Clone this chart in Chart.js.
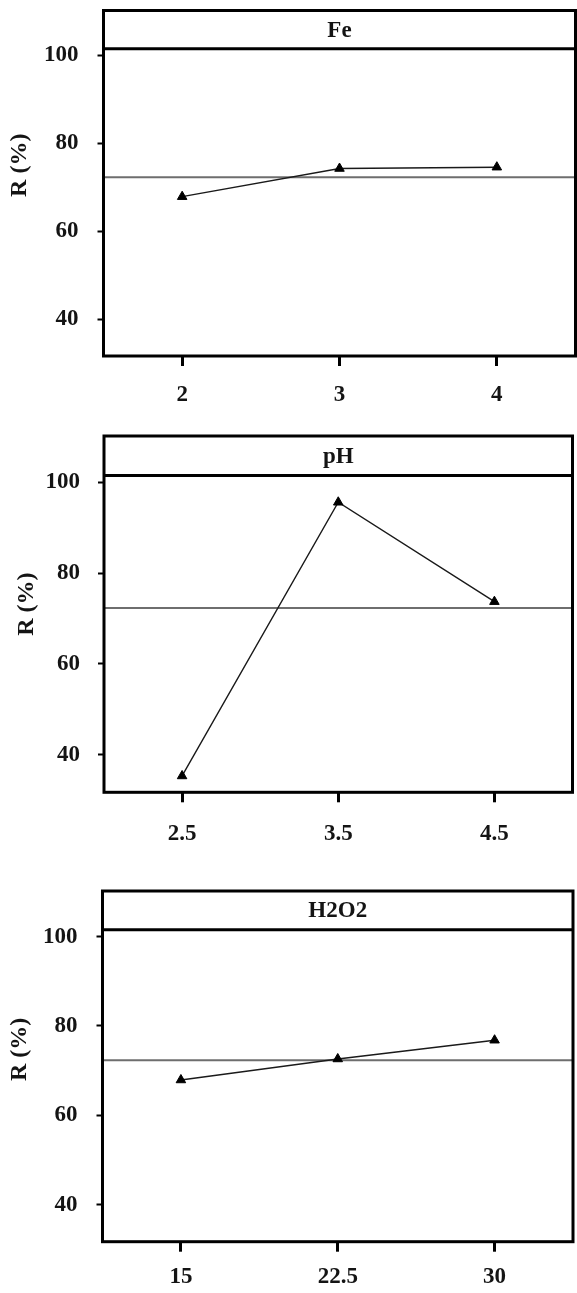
<!DOCTYPE html>
<html>
<head>
<meta charset="utf-8">
<script src="https://cdn.jsdelivr.net/npm/chart.js@4.4.1/dist/chart.umd.min.js"></script>
<style>
html,body{margin:0;padding:0;background:#fff;}
body{width:577px;height:1293px;position:relative;overflow:hidden;}
canvas{position:absolute;left:0;}
</style>
</head>
<body>
<canvas id="cFe"></canvas>
<canvas id="cPH"></canvas>
<canvas id="cH2O2"></canvas>
<script>
// Factor levels and mean response R (%) at each level
const feLevels = ['2', '3', '4'];
const feR = [67.9, 74.3, 74.6];

const phLevels = ['2.5', '3.5', '4.5'];
const phR = [35.3, 95.6, 73.7];

const h2o2Levels = ['15', '22.5', '30'];
const h2o2R = [67.9, 72.6, 76.8];

// Grand mean reference line and shared y axis
const grandMean = 72.3;
const yTicks = [40, 60, 80, 100];
const yTitle = 'R (%)';

const textColor = '#141414';
const fontFamily = '"Liberation Serif", "Times New Roman", serif';

// Draws the panel frame, the title strip, the grand-mean line and the y title
const panelFrame = {
  id: 'panelFrame',
  beforeDatasetsDraw(chart, args, opts) {
    const { ctx, chartArea: a, scales: { y } } = chart;
    const ym = y.getPixelForValue(opts.mean);
    ctx.save();
    ctx.strokeStyle = '#6e6e6e';
    ctx.lineWidth = 2;
    ctx.beginPath();
    ctx.moveTo(a.left, ym);
    ctx.lineTo(a.right, ym);
    ctx.stroke();
    ctx.restore();
  },
  afterDraw(chart, args, opts) {
    const { ctx, chartArea: a, scales: { y } } = chart;
    const yb = y.getPixelForValue(opts.band);
    ctx.save();
    ctx.strokeStyle = '#000';
    ctx.lineWidth = 3;
    ctx.strokeRect(a.left, a.top, a.right - a.left, a.bottom - a.top);
    ctx.beginPath();
    ctx.moveTo(a.left, yb);
    ctx.lineTo(a.right, yb);
    ctx.stroke();

    ctx.fillStyle = textColor;
    ctx.textAlign = 'center';
    ctx.textBaseline = 'middle';
    ctx.font = 'bold 23px ' + fontFamily;
    ctx.fillText(opts.title, (a.left + a.right) / 2, (a.top + yb) / 2 + 1);

    ctx.translate(opts.yTitleX, (a.top + a.bottom) / 2 + opts.yTitleShift);
    ctx.rotate(-Math.PI / 2);
    ctx.font = 'bold 24px ' + fontFamily;
    ctx.fillText(yTitle, 0, 0);
    ctx.restore();
  }
};

const panels = [
  { id: 'cFe', title: 'Fe', levels: feLevels, values: feR,
    top: 0, height: 420, padTop: 10.5, padRight: 1.5, yWidth: 103.5, xHeight: 64,
    xPad: 15, yPad: 19, yTitleX: 20, yTitleShift: -18 },
  { id: 'cPH', title: 'pH', levels: phLevels, values: phR,
    top: 420, height: 440, padTop: 16, padRight: 4.5, yWidth: 104, xHeight: 67.7,
    xPad: 18, yPad: 18, yTitleX: 27, yTitleShift: -10 },
  { id: 'cH2O2', title: 'H2O2', levels: h2o2Levels, values: h2o2R,
    top: 860, height: 433, padTop: 31, padRight: 4, yWidth: 102.5, xHeight: 51.3,
    xPad: 12, yPad: 19, yTitleX: 20, yTitleShift: -17 }
];

const tickFont = { family: fontFamily, size: 23, weight: 'bold' };

panels.forEach(p => {
  const canvas = document.getElementById(p.id);
  canvas.width = 577;
  canvas.height = p.height;
  canvas.style.width = '577px';
  canvas.style.height = p.height + 'px';
  canvas.style.top = p.top + 'px';

  new Chart(canvas, {
    type: 'line',
    data: {
      labels: p.levels,
      datasets: [{
        data: p.values,
        borderColor: '#1a1a1a',
        borderWidth: 1.4,
        tension: 0,
        pointStyle: 'triangle',
        pointRadius: 5.5,
        pointBackgroundColor: '#000',
        pointBorderColor: '#000',
        pointBorderWidth: 1
      }]
    },
    options: {
      responsive: false,
      animation: false,
      events: [],
      layout: {
        autoPadding: false,
        padding: { top: p.padTop, right: p.padRight, left: 0, bottom: 0 }
      },
      plugins: {
        legend: { display: false },
        tooltip: { enabled: false },
        panelFrame: {
          title: p.title, mean: grandMean, band: 101.5,
          yTitleX: p.yTitleX, yTitleShift: p.yTitleShift
        }
      },
      scales: {
        x: {
          type: 'category',
          offset: true,
          grid: {
            display: true, drawOnChartArea: false, drawTicks: true, offset: false,
            tickLength: 10, tickWidth: 3, tickColor: '#000'
          },
          border: { display: false },
          ticks: { color: textColor, font: tickFont, padding: p.xPad, maxRotation: 0, autoSkip: false },
          afterFit(s) {
            s.height = p.xHeight;
            s.paddingLeft = 0; s.paddingRight = 0;
          }
        },
        y: {
          min: 31.7,
          max: 110.2,
          afterBuildTicks(s) { s.ticks = yTicks.map(v => ({ value: v })); },
          grid: {
            display: true, drawOnChartArea: false, drawTicks: true,
            tickLength: 6, tickWidth: 2, tickColor: '#000'
          },
          border: { display: false },
          ticks: { color: textColor, font: tickFont, padding: p.yPad },
          afterFit(s) {
            s.width = p.yWidth;
            s.paddingTop = 0; s.paddingBottom = 0;
          }
        }
      }
    },
    plugins: [panelFrame]
  });
});
</script>
</body>
</html>
